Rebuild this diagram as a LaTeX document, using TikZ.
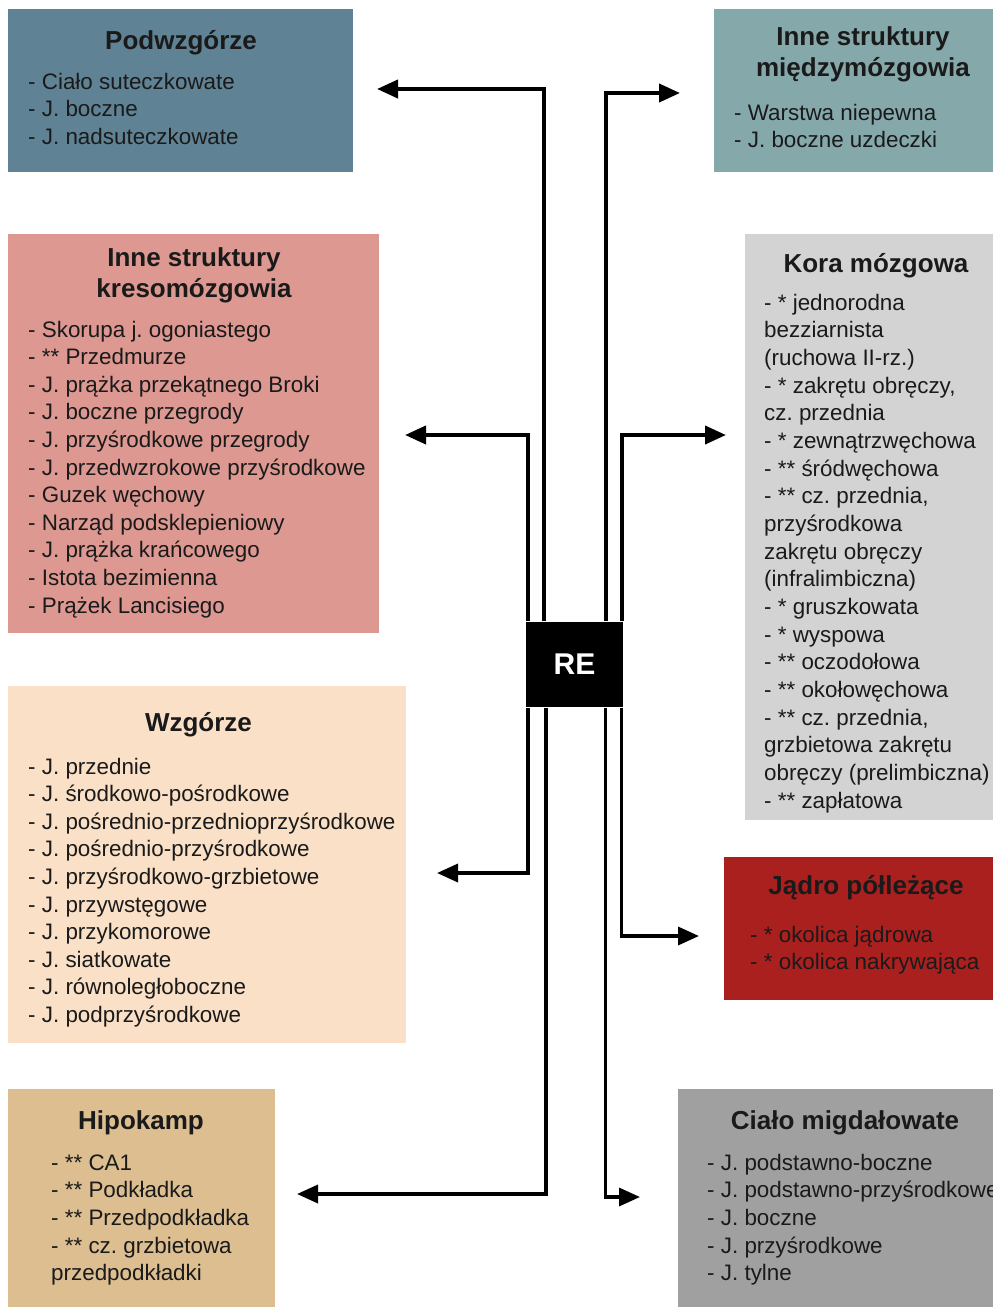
\documentclass[tikz,border=0pt]{standalone}
\usepackage{fontspec}
\setmainfont{Liberation Sans}
\usetikzlibrary{arrows.meta}
\frenchspacing
\definecolor{cPodw}{HTML}{5F8294}
\definecolor{cMiedzy}{HTML}{85A8AB}
\definecolor{cKreso}{HTML}{DC9891}
\definecolor{cKora}{HTML}{D3D3D3}
\definecolor{cWzg}{HTML}{FAE0C7}
\definecolor{cJadro}{HTML}{AA201E}
\definecolor{cHipo}{HTML}{DCBE91}
\definecolor{cCialo}{HTML}{A0A0A0}
\definecolor{cText}{HTML}{1A1A1A}
\tikzset{
  region/.style={draw=none, anchor=north west, inner sep=0pt, outer sep=0pt},
  ttl/.style={anchor=base, inner sep=0pt, text=cText, font=\fontsize{26}{31}\selectfont\bfseries},
  itm/.style={anchor=base west, inner sep=0pt, text=cText, font=\fontsize{22.4}{27.6}\selectfont},
  renode/.style={fill=black, text=white, inner sep=0pt, minimum width=97pt, minimum height=85pt, font=\fontsize{30}{34}\selectfont\bfseries},
  arrtop/.style={line width=4pt, line join=miter, -{Triangle[length=21pt,width=18pt]}},
  arrbot/.style={line width=3.5pt, line join=miter, -{Triangle[length=21pt,width=18pt]}}
}
\newcommand\itemlist[5]{%
  \foreach \t [count=\i] in {#5} {\node[itm] (#1-\i) at (#2,{#3+(\i-1)*#4}) {\frenchspacing\t};}}
\begin{document}
\begin{tikzpicture}[x=1pt,y=-1pt]
\useasboundingbox (0,0) rectangle (993,1307);
\clip (0,0) rectangle (993,1307);
\fill[white] (0,0) rectangle (993,1307);

% region boxes
\node[region, fill=cPodw, minimum width=345pt, minimum height=163pt] (podw) at (8,9) {};
\node[region, fill=cMiedzy, minimum width=298pt, minimum height=163pt] (miedzy) at (714,9) {};
\node[region, fill=cKreso, minimum width=371pt, minimum height=399pt] (kreso) at (8,234) {};
\node[region, fill=cKora, minimum width=265pt, minimum height=586pt] (kora) at (745,234) {};
\node[region, fill=cWzg, minimum width=398pt, minimum height=357pt] (wzg) at (8,686) {};
\node[region, fill=cJadro, minimum width=286pt, minimum height=143pt] (jadro) at (724,857) {};
\node[region, fill=cHipo, minimum width=267pt, minimum height=230pt] (hipo) at (8,1089) {};
\node[region, fill=cCialo, minimum width=334pt, minimum height=230pt] (cialo) at (678,1089) {};

% titles
\node[ttl] (podw-t) at (181,49) {Podwzgórze};
\node[ttl] (miedzy-t1) at (863,45) {Inne struktury};
\node[ttl] (miedzy-t2) at (863,76) {międzymózgowia};
\node[ttl] (kreso-t1) at (194,266) {Inne struktury};
\node[ttl] (kreso-t2) at (194,297) {kresomózgowia};
\node[ttl] (kora-t) at (876,272) {Kora mózgowa};
\node[ttl] (wzg-t) at (198.5,731) {Wzgórze};
\node[ttl] (jadro-t) at (866,894) {Jądro półleżące};
\node[ttl] (hipo-t) at (141,1129) {Hipokamp};
\node[ttl] (cialo-t) at (845,1129) {Ciało migdałowate};

% item lists
\itemlist{podw}{28}{89}{27.6}{{- Ciało suteczkowate},{- J. boczne},{- J. nadsuteczkowate}}
\itemlist{miedzy}{734}{120}{27.6}{{- Warstwa niepewna},{- J. boczne uzdeczki}}
\itemlist{kreso}{28}{337}{27.6}{{- Skorupa j. ogoniastego},{- ** Przedmurze},{- J. prążka przekątnego Broki},{- J. boczne przegrody},{- J. przyśrodkowe przegrody},{- J. przedwzrokowe przyśrodkowe},{- Guzek węchowy},{- Narząd podsklepieniowy},{- J. prążka krańcowego},{- Istota bezimienna},{- Prążek Lancisiego}}
\itemlist{kora}{764}{310}{27.67}{{- * jednorodna},{bezziarnista},{(ruchowa II-rz.)},{- * zakrętu obręczy,},{cz. przednia},{- * zewnątrzwęchowa},{- ** śródwęchowa},{- ** cz. przednia,},{przyśrodkowa},{zakrętu obręczy},{(infralimbiczna)},{- * gruszkowata},{- * wyspowa},{- ** oczodołowa},{- ** okołowęchowa},{- ** cz. przednia,},{grzbietowa zakrętu},{obręczy (prelimbiczna)},{- ** zapłatowa}}
\itemlist{wzg}{28}{774}{27.6}{{- J. przednie},{- J. środkowo-pośrodkowe},{- J. pośrednio-przednioprzyśrodkowe},{- J. pośrednio-przyśrodkowe},{- J. przyśrodkowo-grzbietowe},{- J. przywstęgowe},{- J. przykomorowe},{- J. siatkowate},{- J. równoległoboczne},{- J. podprzyśrodkowe}}
\itemlist{jadro}{750}{942}{27.6}{{- * okolica jądrowa},{- * okolica nakrywająca}}
\itemlist{hipo}{51}{1170}{27.7}{{- ** CA1},{- ** Podkładka},{- ** Przedpodkładka},{- ** cz. grzbietowa},{przedpodkładki}}
\itemlist{cialo}{707}{1170}{27.7}{{- J. podstawno-boczne},{- J. podstawno-przyśrodkowe},{- J. boczne},{- J. przyśrodkowe},{- J. tylne}}

% central node
\node[renode] (re) at (574.5,664) {RE};

% arrow ends
\coordinate (podw-in) at (377,89);
\coordinate (miedzy-in) at (680,93);
\coordinate (kreso-in) at (405,435);
\coordinate (kora-in) at (726,435);
\coordinate (wzg-in) at (437,873);
\coordinate (jadro-in) at (699,936);
\coordinate (hipo-in) at (297,1194);
\coordinate (cialo-in) at (640,1197);

% connectors upward
\draw[arrtop] ([xshift=2pt]re.north west) |- (kreso-in);
\draw[arrtop] ([xshift=18pt]re.north west) |- (podw-in);
\draw[arrtop] ([xshift=-17.5pt]re.north east) |- (miedzy-in);
\draw[arrtop] ([xshift=-1pt]re.north east) |- (kora-in);
% connectors downward
\draw[arrbot] ([xshift=2pt,yshift=-1pt]re.south west) |- (wzg-in);
\draw[arrbot] ([xshift=20pt,yshift=-1pt]re.south west) |- (hipo-in);
\draw[arrbot] ([xshift=-17.5pt,yshift=-1pt]re.south east) |- (cialo-in);
\draw[arrbot] ([xshift=-1.5pt,yshift=-1pt]re.south east) |- (jadro-in);
\end{tikzpicture}
\end{document}
